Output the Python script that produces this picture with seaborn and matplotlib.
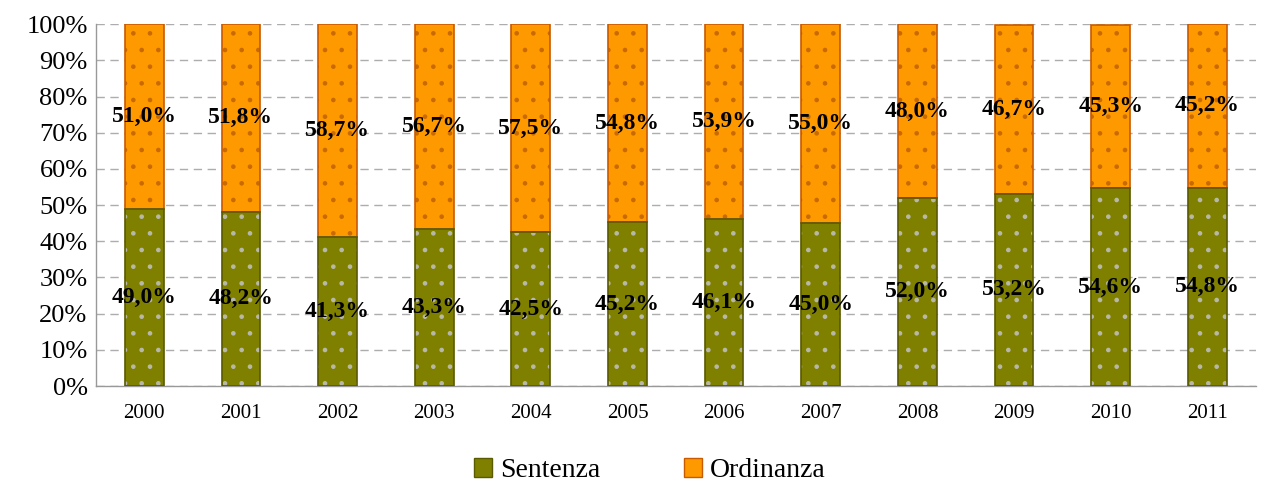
import numpy as np
import pandas as pd
import matplotlib.pyplot as plt
import seaborn as sns

sns.set_style("white")
plt.rcParams["font.family"] = ["Liberation Serif", "DejaVu Serif"]
plt.rcParams["hatch.linewidth"] = 0.9
plt.rcParams["text.color"] = "black"
plt.rcParams["xtick.color"] = "black"
plt.rcParams["ytick.color"] = "black"

years = ["2000", "2001", "2002", "2003", "2004", "2005",
         "2006", "2007", "2008", "2009", "2010", "2011"]
sentenza = [49.0, 48.2, 41.3, 43.3, 42.5, 45.2, 46.1, 45.0, 52.0, 53.2, 54.6, 54.8]
ordinanza = [51.0, 51.8, 58.7, 56.7, 57.5, 54.8, 53.9, 55.0, 48.0, 46.7, 45.3, 45.2]

df = pd.DataFrame({"anno": years, "Sentenza": sentenza, "Ordinanza": ordinanza})
df["totale"] = df["Sentenza"] + df["Ordinanza"]

green = "#808000"
orange = "#FF9900"

fig = plt.figure(figsize=(12.62, 4.83), dpi=100)
ax = fig.add_axes([0.076, 0.2008, 0.919, 0.7492])

# stacked bars: full height in orange, sentenza drawn over it
sns.barplot(data=df, x="anno", y="totale", color=orange, width=0.4,
            saturation=1, ax=ax, zorder=2)
sns.barplot(data=df, x="anno", y="Sentenza", color=green, width=0.4,
            saturation=1, ax=ax, zorder=3)

n = len(years)
for i, p in enumerate(ax.patches):
    is_green = i >= n
    p.set_hatch(".")
    p.set_edgecolor("#B8B8A8" if is_green else "#C86A00")
    p.set_linewidth(0)
    x, w = p.get_x(), p.get_width()
    y, h = p.get_y(), p.get_height()
    if not is_green:
        h = h - sentenza[i]
        y = sentenza[i]
    ax.add_patch(plt.Rectangle((x, y), w, h, fill=False,
                               edgecolor="#5A5A00" if is_green else "#C85A00",
                               linewidth=1.2, zorder=4))

for i in range(n):
    ax.text(i, sentenza[i] / 2, f"{sentenza[i]:.1f}%".replace(".", ","),
            ha="center", va="center", fontsize=17, fontweight="bold", zorder=5)
    ax.text(i, sentenza[i] + ordinanza[i] / 2, f"{ordinanza[i]:.1f}%".replace(".", ","),
            ha="center", va="center", fontsize=17, fontweight="bold", zorder=5)

ax.set_xlim(-0.5, n - 0.5)
ax.set_ylim(0, 100)
ax.set_yticks(np.arange(0, 101, 10))
ax.set_yticklabels([f"{v}%" for v in range(0, 101, 10)], fontsize=19)
ax.tick_params(axis="x", labelsize=15, length=0, pad=13)
ax.set_xticks(np.arange(-0.5, n, 1), minor=True)
ax.tick_params(axis="x", which="minor", length=7, color="#999999", width=1)
ax.tick_params(axis="y", length=0, pad=6)
ax.set_xlabel("")
ax.set_ylabel("")

ax.yaxis.grid(True, linestyle=(0, (6, 4)), color="#ADADAD", linewidth=1, zorder=0)
ax.set_axisbelow(True)
for s in ["top", "right"]:
    ax.spines[s].set_visible(False)
for s in ["left", "bottom"]:
    ax.spines[s].set_color("#999999")
    ax.spines[s].set_linewidth(1)

h1 = plt.Rectangle((0, 0), 1, 1, facecolor=green, edgecolor="#5A5A00")
h2 = plt.Rectangle((0, 0), 1, 1, facecolor=orange, edgecolor="#C85A00")
fig.legend([h1, h2], ["Sentenza", "Ordinanza"], loc="center",
           bbox_to_anchor=(0.515, 0.025), ncol=2, frameon=False, fontsize=20,
           handlelength=0.65, handleheight=0.65, handletextpad=0.3, columnspacing=3.0)

fig.savefig("out.png", dpi=100)
